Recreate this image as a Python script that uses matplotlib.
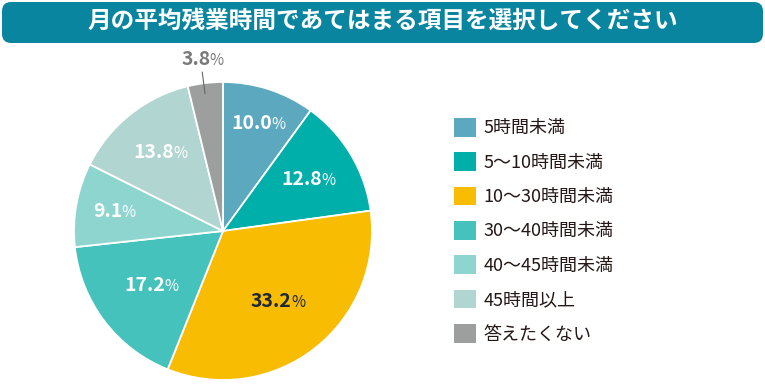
import numpy as np
import matplotlib
matplotlib.use("Agg")
import matplotlib.pyplot as plt
from matplotlib.patches import FancyBboxPatch, Patch
from matplotlib.offsetbox import TextArea, HPacker, AnnotationBbox

plt.rcParams['font.family'] = ['Noto Sans CJK JP', 'DejaVu Sans']

# data
title = "月の平均残業時間であてはまる項目を選択してください"
categories = ["5時間未満", "5～10時間未満", "10～30時間未満", "30～40時間未満",
              "40～45時間未満", "45時間以上", "答えたくない"]
values = [10.0, 12.8, 33.2, 17.2, 9.1, 13.8, 3.8]
colors = ["#5ba8bf", "#00aeaa", "#f8bc02", "#45c2bc", "#8ed5d0", "#b1d5d1", "#9d9e9e"]
label_colors = ["white", "white", "#1c2838", "white", "white", "white", "#7a7a7a"]
label_radius = [0.76, 0.67, 0.60, 0.60, 0.74, 0.67, 1.16]

W, H = 765, 390
fig = plt.figure(figsize=(W / 100, H / 100), dpi=100)

# title banner
banner = FancyBboxPatch((2 / W, (H - 43) / H), (W - 4) / W, 41 / H,
                        boxstyle="round,pad=0,rounding_size=0.012",
                        transform=fig.transFigure, facecolor="#0a85a0",
                        edgecolor="none", mutation_aspect=W / H)
fig.patches.append(banner)
fig.text(0.5, (H - 21) / H, title, ha="center", va="center", color="white",
         fontsize=17, fontweight="bold")

# pie
cx, cy, r = 223, 231, 149
ax = fig.add_axes([(cx - r) / W, (H - cy - r) / H, 2 * r / W, 2 * r / H])
wedges, _ = ax.pie(values, colors=colors, startangle=90, counterclock=False,
                   radius=1.0, wedgeprops=dict(edgecolor="white", linewidth=1.3))
ax.set_xlim(-1, 1)
ax.set_ylim(-1, 1)
ax.axis("off")

for w, v, lc, lr in zip(wedges, values, label_colors, label_radius):
    ang = np.deg2rad((w.theta1 + w.theta2) / 2)
    x, y = lr * np.cos(ang), lr * np.sin(ang)
    num = TextArea(f"{v:.1f}", textprops=dict(color=lc, fontsize=14, fontweight="bold"))
    pct = TextArea("%", textprops=dict(color=lc, fontsize=11))
    box = HPacker(children=[num, pct], align="baseline", pad=0, sep=-0.6)
    ab = AnnotationBbox(box, (x, y), frameon=False, box_alignment=(0.5, 0.5),
                        annotation_clip=False)
    ax.add_artist(ab)

# leader line for the small slice
w = wedges[-1]
ang = np.deg2rad((w.theta1 + w.theta2) / 2 + 0.6)
ax.plot([0.93 * np.cos(ang), 1.075 * np.cos(ang)],
        [0.93 * np.sin(ang), 1.075 * np.sin(ang)],
        color="#666666", linewidth=0.8, clip_on=False)

# legend
handles = [Patch(facecolor=c, edgecolor="none") for c in colors]
fig.legend(handles, categories, loc="upper left",
           bbox_to_anchor=(454 / W, (H - 118) / H), frameon=False,
           fontsize=13, handlelength=1.2, handleheight=1.2,
           handletextpad=0.42, labelspacing=0.83, labelcolor="#231815",
           borderaxespad=0, borderpad=0)

fig.savefig("out.png", dpi=100)
